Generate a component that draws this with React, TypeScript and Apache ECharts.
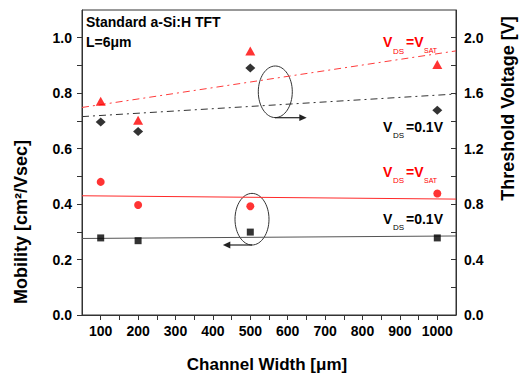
import React, { useEffect, useRef } from "react";
import * as echarts from "echarts";

// ---- data ----
const channelWidths = [100, 200, 500, 1000];
const mobilitySat = [0.48, 0.397, 0.392, 0.438];
const mobilityLin = [0.278, 0.268, 0.299, 0.278];
const vthSat = [1.542, 1.405, 1.904, 1.807];
const vthLin = [1.393, 1.324, 1.782, 1.477];

const fitX = [50, 1050];
const mobilitySatFit = [0.43, 0.418];
const mobilityLinFit = [0.276, 0.285];
const vthSatFit = [1.497, 1.905];
const vthLinFit = [1.431, 1.594];

const xTicks = [100, 150, 200, 250, 300, 350, 400, 450, 500, 550, 600, 650, 700, 750, 800, 850, 900, 950, 1000];
const xLabels = [100, 200, 300, 400, 500, 600, 700, 800, 900, 1000];
const mobTicks = [0, 0.1, 0.2, 0.3, 0.4, 0.5, 0.6, 0.7, 0.8, 0.9, 1.0];
const mobLabels = [0, 0.2, 0.4, 0.6, 0.8, 1.0];
const vthTicks = [0, 0.2, 0.4, 0.6, 0.8, 1.0, 1.2, 1.4, 1.6, 1.8, 2.0];
const vthLabels = [0, 0.4, 0.8, 1.2, 1.6, 2.0];

const FONT = '"Liberation Sans", Arial, Helvetica, sans-serif';
const RED = "#ff0000";

function pairs(xs: number[], ys: number[]) {
  return xs.map((x, i) => [x, ys[i]]);
}

function txt(x: number, y: number, text: string, font: string, fill: string, extra: any = {}) {
  return {
    type: "text",
    x,
    y,
    silent: true,
    ...extra,
    style: {
      text,
      font,
      fill,
      textAlign: extra.align || "left",
      textVerticalAlign: "middle",
      align: extra.align || "left",
      verticalAlign: "middle",
    },
  };
}

function vLabel(x: number, y: number, color: string, tail: string, tailSub: string | null) {
  const children: any[] = [
    txt(0, 0, "V", `bold 14px ${FONT}`, color),
    txt(10, 9, "DS", `8px ${FONT}`, color),
    txt(23, 0, tail, `bold 14px ${FONT}`, color),
  ];
  if (tailSub) children.push(txt(41, 8.5, tailSub, `7px ${FONT}`, color));
  return { type: "group", x, y, children };
}

export default function App() {
  const ref = useRef<HTMLDivElement>(null);

  useEffect(() => {
    if (!ref.current) return;
    const chart = echarts.init(ref.current, undefined, { renderer: "svg" });
    const axisLabelStyle = {
      color: "#000",
      fontSize: 14,
      fontWeight: "bold",
      fontFamily: FONT,
    };
    const axisLine = { show: true, lineStyle: { color: "#333", width: 1 } };

    chart.setOption({
      animation: false,
      backgroundColor: "#fff",
      grid: {
        left: 82,
        right: 68,
        top: 10,
        bottom: 59,
        show: true,
        borderColor: "#333",
        borderWidth: 1,
        backgroundColor: "transparent",
      },
      xAxis: {
        type: "value",
        min: 50,
        max: 1050,
        axisLine,
        axisTick: { show: true, length: 5, customValues: xTicks, lineStyle: { color: "#333" } },
        axisLabel: { ...axisLabelStyle, margin: 9, customValues: xLabels, formatter: (v: number) => String(v) },
        splitLine: { show: false },
      },
      yAxis: [
        {
          type: "value",
          min: 0,
          max: 1.1,
          axisLine,
          axisTick: { show: true, length: 5, customValues: mobTicks, lineStyle: { color: "#333" } },
          axisLabel: { ...axisLabelStyle, margin: 10, customValues: mobLabels, formatter: (v: number) => v.toFixed(1) },
          splitLine: { show: false },
        },
        {
          type: "value",
          position: "right",
          min: 0,
          max: 2.2,
          axisLine,
          axisTick: { show: true, inside: true, length: 5, customValues: vthTicks, lineStyle: { color: "#333" } },
          axisLabel: { ...axisLabelStyle, margin: 8, customValues: vthLabels, formatter: (v: number) => v.toFixed(1) },
          splitLine: { show: false },
        },
      ],
      series: [
        {
          type: "line",
          yAxisIndex: 0,
          data: pairs(fitX, mobilitySatFit),
          symbol: "none",
          lineStyle: { color: "#ff2a2a", width: 1 },
          z: 1,
        },
        {
          type: "line",
          yAxisIndex: 0,
          data: pairs(fitX, mobilityLinFit),
          symbol: "none",
          lineStyle: { color: "#555", width: 1 },
          z: 1,
        },
        {
          type: "line",
          yAxisIndex: 1,
          data: pairs(fitX, vthSatFit),
          symbol: "none",
          lineStyle: { color: "#ff3b3b", width: 1, type: [7, 4, 2, 4] },
          z: 1,
        },
        {
          type: "line",
          yAxisIndex: 1,
          data: pairs(fitX, vthLinFit),
          symbol: "none",
          lineStyle: { color: "#333", width: 1, type: [7, 4, 2, 4] },
          z: 1,
        },
        {
          type: "scatter",
          yAxisIndex: 0,
          data: pairs(channelWidths, mobilitySat),
          symbol: "circle",
          symbolSize: 8,
          itemStyle: { color: RED },
          z: 3,
        },
        {
          type: "scatter",
          yAxisIndex: 0,
          data: pairs(channelWidths, mobilityLin),
          symbol: "rect",
          symbolSize: 7,
          itemStyle: { color: "#000" },
          z: 3,
        },
        {
          type: "scatter",
          yAxisIndex: 1,
          data: pairs(channelWidths, vthSat),
          symbol: "triangle",
          symbolSize: [10, 9],
          itemStyle: { color: RED },
          z: 3,
        },
        {
          type: "scatter",
          yAxisIndex: 1,
          data: pairs(channelWidths, vthLin),
          symbol: "diamond",
          symbolSize: [10, 9],
          itemStyle: { color: "#000" },
          z: 3,
        },
      ],
      graphic: [
        txt(86, 21.7, "Standard a-Si:H TFT", `bold 14px ${FONT}`, "#000"),
        txt(86, 42, "L=6\u03bcm", `bold 14px ${FONT}`, "#000"),
        vLabel(383, 42.2, RED, "=V", "SAT"),
        vLabel(383, 126.7, "#000", "=0.1V", null),
        vLabel(383, 171.7, RED, "=V", "SAT"),
        vLabel(383, 218.7, "#000", "=0.1V", null),
        // upper ellipse + right arrow
        {
          type: "ellipse",
          silent: true,
          shape: { cx: 275.3, cy: 91.8, rx: 17, ry: 25.8 },
          style: { fill: "none", stroke: "#333", lineWidth: 1 },
        },
        {
          type: "line",
          silent: true,
          shape: { x1: 275, y1: 117.7, x2: 301, y2: 117.7 },
          style: { stroke: "#222", lineWidth: 1.2 },
        },
        {
          type: "polygon",
          silent: true,
          shape: { points: [[299.3, 114.3], [306.7, 117.7], [299.3, 121.1]] },
          style: { fill: "#222" },
        },
        // lower ellipse + left arrow
        {
          type: "ellipse",
          silent: true,
          shape: { cx: 252, cy: 219.2, rx: 17, ry: 25.8 },
          style: { fill: "none", stroke: "#333", lineWidth: 1 },
        },
        {
          type: "line",
          silent: true,
          shape: { x1: 252, y1: 245, x2: 228, y2: 245 },
          style: { stroke: "#222", lineWidth: 1.2 },
        },
        {
          type: "polygon",
          silent: true,
          shape: { points: [[230.3, 241.6], [222.9, 245], [230.3, 248.4]] },
          style: { fill: "#222" },
        },
        // axis names
        txt(21, 222, "Mobility [cm\u00b2/Vsec]", `bold 18px ${FONT}`, "#000", { rotation: Math.PI / 2, align: "center" }),
        txt(508, 108.5, "Threshold Voltage [V]", `bold 18px ${FONT}`, "#000", { rotation: Math.PI / 2, align: "center" }),
        txt(267, 364.5, "Channel Width [\u03bcm]", `bold 17px ${FONT}`, "#000", { align: "center" }),
      ],
    });
    return () => chart.dispose();
  }, []);

  return (
    <div
      ref={ref}
      style={{ position: "fixed", left: 0, top: 0, width: 524, height: 374, background: "#fff" }}
    />
  );
}
